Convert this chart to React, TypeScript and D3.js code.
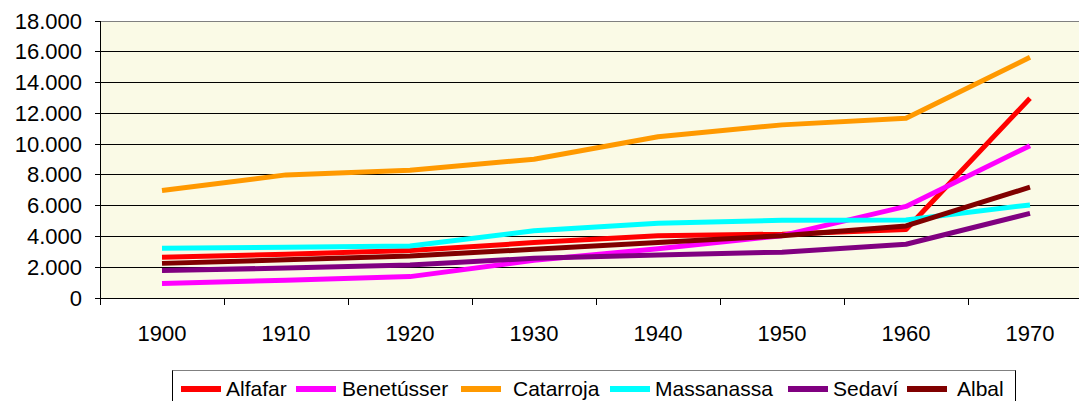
import React from "react";
import * as d3 from "d3";

const years = ["1900", "1910", "1920", "1930", "1940", "1950", "1960", "1970"];
const seriesNames = ["Alfafar", "Benetússer", "Catarroja", "Massanassa", "Sedaví", "Albal"];
const alfafar = [2650, 2850, 3080, 3600, 4050, 4150, 4450, 12980];
const benetusser = [950, 1150, 1390, 2450, 3200, 4050, 5950, 9900];
const catarroja = [6980, 8000, 8300, 9020, 10480, 11250, 11680, 15640];
const massanassa = [3230, 3300, 3380, 4370, 4850, 5050, 5070, 6050];
const sedavi = [1780, 1950, 2150, 2580, 2800, 2980, 3490, 5500];
const albal = [2250, 2480, 2730, 3170, 3600, 4050, 4680, 7200];
const yTicks = [0, 2000, 4000, 6000, 8000, 10000, 12000, 14000, 16000, 18000];
const yTickLabels = ["0", "2.000", "4.000", "6.000", "8.000", "10.000", "12.000", "14.000", "16.000", "18.000"];

const seriesValues = [alfafar, benetusser, catarroja, massanassa, sedavi, albal];
const colors = ["#FF0000", "#FF00FF", "#FF9900", "#00FFFF", "#800080", "#800000"];
const legendLineX = [181, 296, 461, 610, 788, 907];
const legendTextX = [226, 342, 513, 655, 833, 957];

const W = 1079;
const H = 401;
const left = 100;
const right = 1092;
const top = 21;
const bottom = 298;
const font = "'Liberation Sans', Arial, sans-serif";

export default function App() {
  const x = d3.scaleBand<string>().domain(years).range([left, right]).padding(0);
  const y = d3.scaleLinear().domain([0, 18000]).range([bottom, top]);
  const line = d3
    .line<number>()
    .x((_, i) => (x(years[i]) as number) + x.bandwidth() / 2)
    .y((d) => y(d));

  const tickXs = years.map((yr) => x(yr) as number).concat([right]);

  return (
    <svg
      width={W}
      height={H}
      style={{ position: "absolute", left: 0, top: 0, display: "block" }}
    >
      <rect x={0} y={0} width={W} height={H} fill="#ffffff" />
      <rect x={left} y={top} width={right - left} height={bottom - top} fill="#FAFAE6" />
      {yTicks.map((t, i) => (
        <g key={"g" + i}>
          {t > 0 && (
            <line
              x1={left}
              x2={right}
              y1={y(t)}
              y2={y(t)}
              stroke={t === 18000 ? "#808080" : "#000000"}
              strokeWidth={1}
              shapeRendering="crispEdges"
            />
          )}
          <line x1={left - 5} x2={left} y1={y(t)} y2={y(t)} stroke="#000" shapeRendering="crispEdges" />
          <text
            x={82}
            y={y(t)}
            textAnchor="end"
            dominantBaseline="central"
            fontFamily={font}
            fontSize={22}
            fill="#000"
          >
            {yTickLabels[i]}
          </text>
        </g>
      ))}
      <line x1={left} x2={left} y1={top} y2={bottom} stroke="#000" shapeRendering="crispEdges" />
      <line x1={left} x2={right} y1={bottom} y2={bottom} stroke="#000" shapeRendering="crispEdges" />
      {tickXs.map((tx, i) => (
        <line key={"xt" + i} x1={tx} x2={tx} y1={bottom} y2={bottom + 7} stroke="#000" shapeRendering="crispEdges" />
      ))}
      {years.map((yr) => (
        <text
          key={yr}
          x={(x(yr) as number) + x.bandwidth() / 2}
          y={341}
          textAnchor="middle"
          fontFamily={font}
          fontSize={22}
          fill="#000"
        >
          {yr}
        </text>
      ))}
      {seriesValues.map((vals, i) => (
        <path
          key={seriesNames[i]}
          d={line(vals) as string}
          fill="none"
          stroke={colors[i]}
          strokeWidth={5}
          strokeLinejoin="round"
        />
      ))}
      <rect x={172.5} y={370.5} width={843} height={60} fill="#ffffff" stroke="#000" strokeWidth={1} />
      <line x1={172.5} x2={1015.5} y1={370.5} y2={370.5} stroke="#808080" strokeWidth={1} />
      {seriesNames.map((name, i) => (
        <g key={"lg" + i}>
          <line
            x1={legendLineX[i]}
            x2={legendLineX[i] + 40}
            y1={389}
            y2={389}
            stroke={colors[i]}
            strokeWidth={6}
          />
          <text
            x={legendTextX[i]}
            y={396}
            fontFamily={font}
            fontSize={21}
            fill="#000"
          >
            {name}
          </text>
        </g>
      ))}
    </svg>
  );
}
